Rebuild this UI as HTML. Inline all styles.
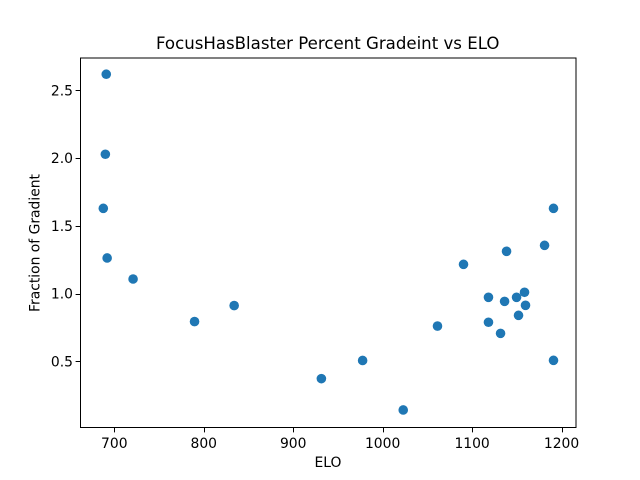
<!DOCTYPE html>
<html>
<head>
<meta charset="utf-8">
<style>
html,body{margin:0;padding:0;background:#fff;width:640px;height:480px;overflow:hidden}
svg{display:block}
text{font-family:"DejaVu Sans",sans-serif;fill:#000}
</style>
</head>
<body>
<svg id="chart" width="640" height="480" viewBox="0 0 640 480" xmlns="http://www.w3.org/2000/svg">
<rect x="0" y="0" width="640" height="480" fill="#fff"/>
<rect x="80" y="57.6" width="496" height="369.6" fill="#fff"/>
<g id="points"></g>
<g id="xticks"></g>
<g id="yticks"></g>
<rect x="80.5" y="58" width="495.5" height="369.5" fill="none" stroke="#000" stroke-width="1"/>
<text x="327.7" y="49" font-size="16.6" text-anchor="middle">FocusHasBlaster Percent Gradeint vs ELO</text>
<text x="328" y="467" font-size="13.89" text-anchor="middle">ELO</text>
<text transform="translate(39.4 243) rotate(-90)" font-size="13.89" text-anchor="middle">Fraction of Gradient</text>
</svg>
<script>
const elo = [691, 690, 687.7, 692, 721, 789.7, 834, 931.5, 977.6, 1023, 1061.3, 1090.4, 1118.3, 1118.3, 1131.8, 1136.3, 1138.5, 1149.7, 1151.9, 1158.6, 1159.7, 1181, 1191, 1191];
const fraction = [2.617, 2.027, 1.628, 1.262, 1.107, 0.793, 0.911, 0.372, 0.506, 0.141, 0.76, 1.215, 0.972, 0.788, 0.706, 0.942, 1.311, 0.972, 0.839, 1.009, 0.913, 1.355, 1.628, 0.507];
const xTickValues = [700, 800, 900, 1000, 1100, 1200];
const yTickValues = [0.5, 1.0, 1.5, 2.0, 2.5];

const NS = 'http://www.w3.org/2000/svg';
function xScale(v) { return 114.3 + (v - 700) * 0.8945; }
function yScale(v) { return 361.3 - (v - 0.5) * 135.6; }
function make(tag, attrs, parent) {
  const el = document.createElementNS(NS, tag);
  for (const k in attrs) el.setAttribute(k, attrs[k]);
  parent.appendChild(el);
  return el;
}
const pointsGroup = document.getElementById('points');
elo.forEach(function (v, i) {
  const c = make('circle', { cx: xScale(v), cy: yScale(fraction[i]), r: 4.8, fill: '#1f77b4' }, pointsGroup);
  
  
});
const xGroup = document.getElementById('xticks');
xTickValues.forEach(function (v) {
  const px = Math.round(xScale(v)) + 0.5;
  const m = make('line', { x1: px, x2: px, y1: 427.5, y2: 432.4, stroke: '#000', 'stroke-width': 1 }, xGroup);
  
  
  const t = make('text', { x: xScale(v), y: 448, 'font-size': 13.89, 'text-anchor': 'middle' }, xGroup);
  t.textContent = String(v);
  
  
});
const yGroup = document.getElementById('yticks');
yTickValues.forEach(function (v) {
  const py = Math.round(yScale(v)) + 0.5;
  const m = make('line', { x1: 75.6, x2: 80.5, y1: py, y2: py, stroke: '#000', 'stroke-width': 1 }, yGroup);
  
  
  const t = make('text', { x: 73, y: yScale(v) + 5.2, 'font-size': 13.89, 'text-anchor': 'end' }, yGroup);
  t.textContent = v.toFixed(1);
  
  
});
</script>
</body>
</html>
